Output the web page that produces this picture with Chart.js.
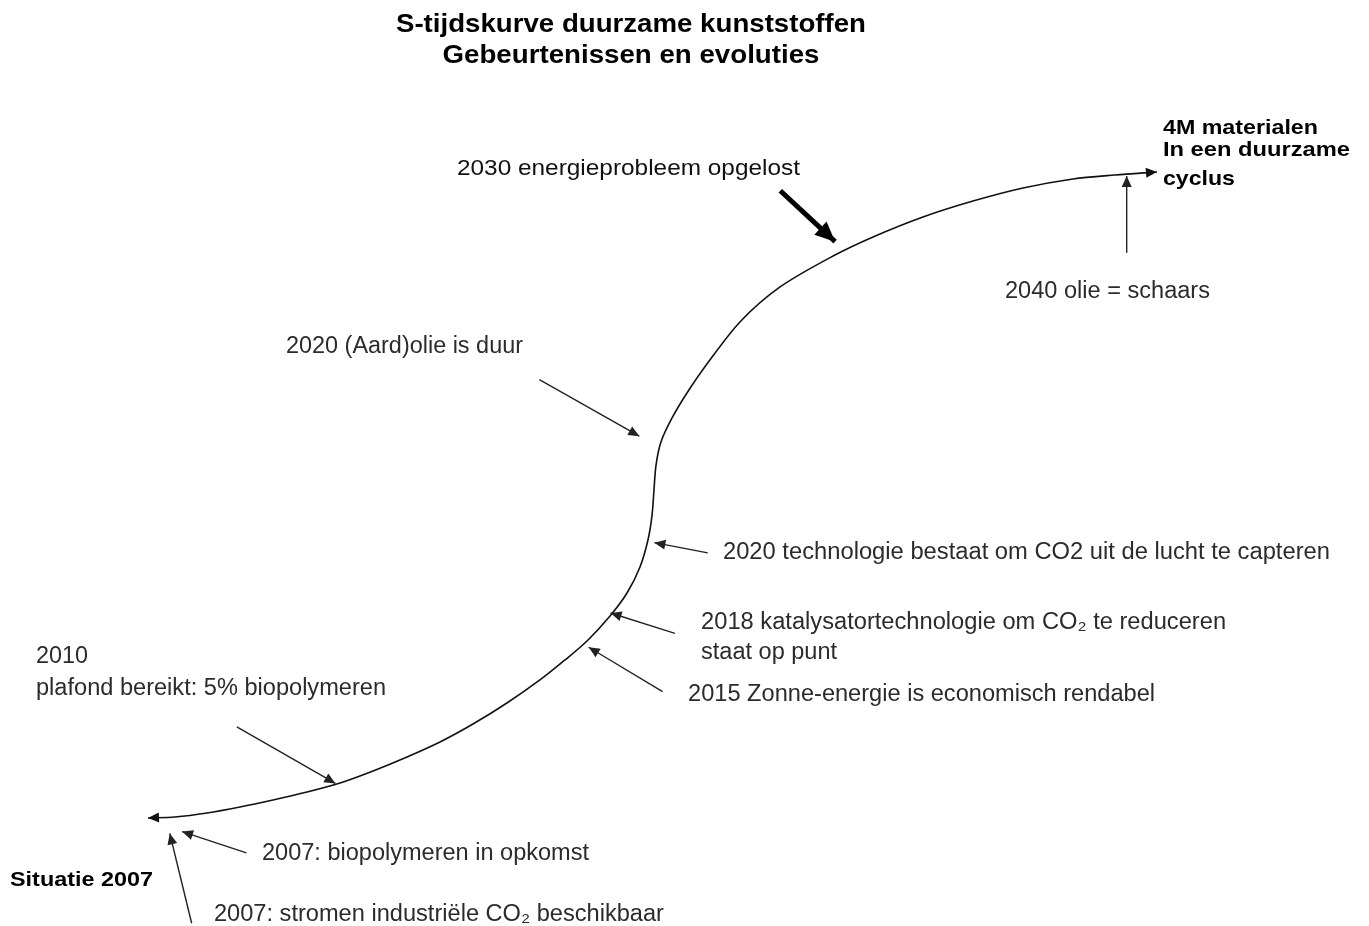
<!DOCTYPE html>
<html>
<head>
<meta charset="utf-8">
<script src="https://cdn.jsdelivr.net/npm/chart.js@4.4.0/dist/chart.umd.min.js"></script>
<style>
    html, body { margin: 0; padding: 0; background: #fff; }
    #wrap { width: 1369px; height: 926px; }
</style>
</head>
<body>
<div id="wrap"><canvas id="s-curve"></canvas></div>
<script>
// S-tijdskurve: x = tijd, y = doorbraak (beide 0..100, willekeurige eenheden)
const curveX = [10.81, 12.78, 15.12, 17.53, 19.94, 22.43, 24.84, 27.25, 29.73, 32.14, 34.55, 37.03,
                39.44, 41.27, 42.88, 44.56, 45.80, 46.75, 47.33, 47.63, 47.77, 47.92, 48.28, 49.09,
                50.18, 51.64, 54.05, 56.98, 60.85, 63.77, 67.42, 71.07, 74.73, 78.38, 81.45, 84.51];
const curveY = [11.66, 11.77, 12.20, 12.85, 13.61, 14.47, 15.44, 16.74, 18.25, 19.87, 21.81, 24.08,
                26.57, 28.73, 30.78, 33.48, 35.96, 38.77, 41.68, 44.38, 47.08, 49.78, 52.27, 54.86,
                57.56, 60.69, 65.23, 69.01, 72.35, 74.41, 76.57, 78.29, 79.70, 80.67, 81.10, 81.43];

// pijlen naar de curve: staart -> punt
const arrowTailX = [57.0, 82.3, 39.4, 51.7, 49.3, 48.4, 17.3, 18.0, 14.0];
const arrowTailY = [79.4, 72.7, 59.0, 40.3, 31.6, 25.3, 21.5, 7.9, 0.3];
const arrowTipX  = [61.0, 82.3, 46.7, 47.8, 44.6, 43.0, 24.5, 13.3, 12.4];
const arrowTipY  = [73.9, 81.0, 52.9, 41.4, 33.8, 30.1, 15.4, 10.2, 10.0];

// teksten
const titleLines = ['S-tijdskurve duurzame kunststoffen', 'Gebeurtenissen en evoluties'];
const labelTexts = [
    '2030 energieprobleem opgelost',
    '2040 olie = schaars',
    '2020 (Aard)olie is duur',
    '2020 technologie bestaat om CO2 uit de lucht te capteren',
    '2018 katalysatortechnologie om CO\u2082 te reduceren',
    'staat op punt',
    '2015 Zonne-energie is economisch rendabel',
    '2010',
    'plafond bereikt: 5% biopolymeren',
    'Situatie 2007',
    '2007: biopolymeren in opkomst',
    '2007: stromen industriële CO\u2082 beschikbaar',
    '4M materialen',
    'In een duurzame',
    'cyclus'
];
const labelX = [33.38, 73.41, 20.89, 52.81, 51.21, 51.21, 50.26, 2.63, 2.63, 0.73, 19.14, 15.63, 84.95, 84.95, 84.95];
const labelY = [81.77, 68.48, 62.54, 40.30, 32.74, 29.50, 24.96, 29.07, 25.60, 4.98, 7.79, 1.20, 86.18, 83.80, 80.67];

// opmaak (breedte in px zoals in het origineel)
const NORMAL = { font: '23px "Liberation Sans", Arial, sans-serif', color: '#2b2b2b' };
const DARK   = { font: '22px "Liberation Sans", Arial, sans-serif', color: '#111' };
const BOLD   = { font: 'bold 21px "Liberation Sans", Arial, sans-serif', color: '#000' };
const labelStyle = [DARK, NORMAL, NORMAL, NORMAL, NORMAL, NORMAL, NORMAL, NORMAL, NORMAL, BOLD, NORMAL, NORMAL, BOLD, BOLD, BOLD];
const labelWidth = [343, 205, 237, 607, 525, 136, 467, 52, 350, 143, 327, 450, 155, 187, 72];
const titleX = 46.09;
const titleY = [97.25, 93.95];
const titleWidth = [470, 377];

function drawFitted(ctx, text, px, py, style, width, align) {
    ctx.save();
    ctx.font = style.font;
    ctx.fillStyle = style.color;
    ctx.textBaseline = 'middle';
    ctx.textAlign = 'left';
    const w = ctx.measureText(text).width;
    const sx = width ? width / w : 1;
    ctx.translate(align === 'center' ? px - (w * sx) / 2 : px, py);
    ctx.scale(sx, 1);
    ctx.fillText(text, 0, 0);
    ctx.restore();
}

function drawHead(ctx, x0, y0, x1, y1, len, half, color) {
    const a = Math.atan2(y1 - y0, x1 - x0);
    ctx.save();
    ctx.translate(x1, y1);
    ctx.rotate(a);
    ctx.fillStyle = color;
    ctx.beginPath();
    ctx.moveTo(0, 0);
    ctx.lineTo(-len, -half);
    ctx.lineTo(-len, half);
    ctx.closePath();
    ctx.fill();
    ctx.restore();
}

const annotations = {
    id: 'annotations',
    afterDatasetsDraw(chart) {
        const { ctx, scales: { x, y } } = chart;
        const n = curveX.length;

        // pijlpunten aan beide uiteinden van de curve
        drawHead(ctx, x.getPixelForValue(curveX[1]), y.getPixelForValue(curveY[1]),
                 x.getPixelForValue(curveX[0]), y.getPixelForValue(curveY[0]), 11, 5, '#111');
        drawHead(ctx, x.getPixelForValue(curveX[n - 2]), y.getPixelForValue(curveY[n - 2]),
                 x.getPixelForValue(curveX[n - 1]), y.getPixelForValue(curveY[n - 1]), 11, 5, '#111');

        arrowTipX.forEach((tx, i) => {
            const thick = i === 0;
            drawHead(ctx, x.getPixelForValue(arrowTailX[i]), y.getPixelForValue(arrowTailY[i]),
                     x.getPixelForValue(tx), y.getPixelForValue(arrowTipY[i]),
                     thick ? 20 : 11, thick ? 9 : 5, thick ? '#000' : '#222');
        });

        titleLines.forEach((t, i) => {
            drawFitted(ctx, t, x.getPixelForValue(titleX), y.getPixelForValue(titleY[i]),
                       { font: 'bold 25px "Liberation Sans", Arial, sans-serif', color: '#000' }, titleWidth[i], 'center');
        });

        labelTexts.forEach((t, i) => {
            drawFitted(ctx, t, x.getPixelForValue(labelX[i]), y.getPixelForValue(labelY[i]),
                       labelStyle[i], labelWidth[i], 'left');
        });
    }
};

const datasets = [{
    label: 'S-curve',
    data: curveX.map((v, i) => ({ x: v, y: curveY[i] })),
    showLine: true,
    borderColor: '#111',
    borderWidth: 1.6,
    pointRadius: 0,
    tension: 0.3
}];

arrowTipX.forEach((tx, i) => {
    datasets.push({
        label: 'pijl ' + i,
        data: [{ x: arrowTailX[i], y: arrowTailY[i] }, { x: tx, y: arrowTipY[i] }],
        showLine: true,
        borderColor: i === 0 ? '#000' : '#222',
        borderWidth: i === 0 ? 5 : 1.4,
        pointRadius: 0,
        tension: 0
    });
});

new Chart(document.getElementById('s-curve'), {
    type: 'scatter',
    data: { datasets },
    options: {
        responsive: true,
        maintainAspectRatio: false,
        animation: false,
        layout: { padding: 0 },
        plugins: {
            legend: { display: false },
            tooltip: { enabled: false }
        },
        scales: {
            x: { type: 'linear', min: 0, max: 100, display: false },
            y: { type: 'linear', min: 0, max: 100, display: false }
        }
    },
    plugins: [annotations]
});
</script>
</body>
</html>
